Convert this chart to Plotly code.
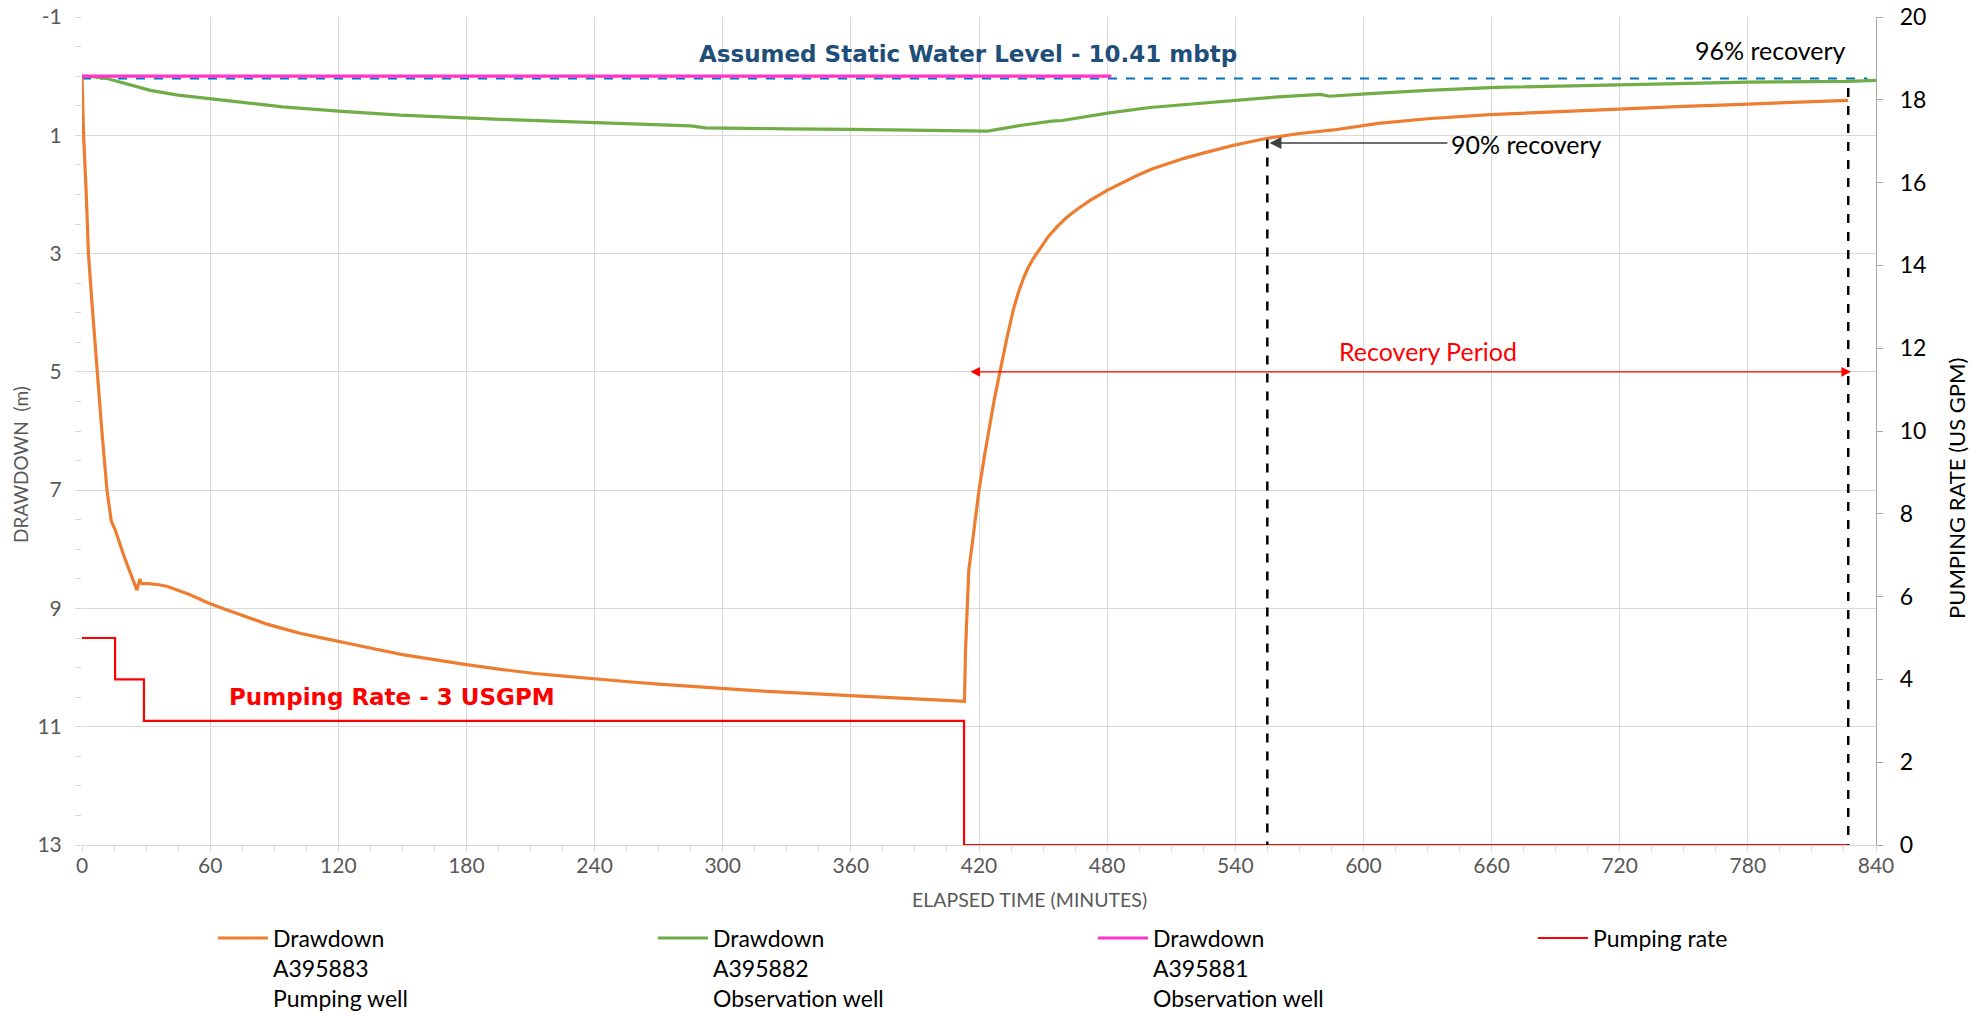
import plotly.graph_objects as go

# ---------------- data ----------------
# Pumping well A395883 drawdown (m) vs elapsed time (min)
pw_time = [0, 0.75, 2, 3, 4.6, 7, 9.3, 11.7, 13.3, 13.7, 15.6, 20, 25.7, 26.5, 27.1, 27.6, 28,
           31, 36, 40, 45, 50, 55, 60, 66, 72, 80, 87, 95, 102, 110, 120, 135, 150, 165, 180,
           196, 212, 227, 242, 256, 270, 285, 300, 315, 330, 345, 360, 375, 390, 402, 413.2,
           413.7, 414.3, 415.2, 416.5, 418, 420, 422.5, 425, 427, 429, 431, 433, 436, 438.5,
           441, 443, 445.5, 449, 452.5, 456.5, 461, 466, 472, 480, 487, 494, 501, 508, 516,
           524, 531, 539, 547, 555, 570, 586, 607, 630, 659, 690, 722, 750, 774, 800, 827]
pw_draw = [0, 1.0, 2.0, 3.0, 3.8, 5.0, 6.0, 7.0, 7.43, 7.52, 7.68, 8.15, 8.69, 8.6, 8.5, 8.57, 8.58,
           8.58, 8.6, 8.63, 8.69, 8.76, 8.84, 8.92, 9.0, 9.08, 9.18, 9.27, 9.35, 9.42, 9.48, 9.56,
           9.67, 9.78, 9.87, 9.95, 10.03, 10.1, 10.15, 10.19, 10.24, 10.28, 10.32, 10.35, 10.39,
           10.42, 10.45, 10.48, 10.51, 10.53, 10.55, 10.57,
           9.7, 9.0, 8.36, 8.0, 7.58, 7.0, 6.43, 5.9, 5.5, 5.14, 4.77, 4.44, 3.96, 3.65,
           3.4, 3.24, 3.08, 2.89, 2.71, 2.55, 2.39, 2.25, 2.1, 1.93, 1.8, 1.68, 1.57, 1.48, 1.39,
           1.31, 1.24, 1.17, 1.11, 1.05, 0.97, 0.91, 0.8, 0.72, 0.65, 0.6, 0.55, 0.51, 0.48, 0.44, 0.41]

# Observation well A395882 drawdown (m)
ow1_time = [0, 5, 11.7, 20, 32, 45, 60, 75, 94, 120, 149, 196, 243, 285, 292, 300, 330, 360, 390,
            420, 424, 440, 454, 459, 481, 500, 522, 540, 560, 580, 584, 601, 630, 662, 700, 741,
            780, 827, 840]
ow1_draw = [0, 0.01, 0.04, 0.12, 0.24, 0.32, 0.38, 0.45, 0.52, 0.59, 0.66, 0.73, 0.79, 0.84, 0.875,
            0.88, 0.89, 0.90, 0.92, 0.93, 0.93, 0.83, 0.76, 0.75, 0.62, 0.53, 0.46, 0.41, 0.35,
            0.31, 0.34, 0.30, 0.24, 0.19, 0.16, 0.126, 0.10, 0.087, 0.07]

# Observation well A395881 drawdown (m)
ow2_time = [0, 482]
ow2_draw = [0, 0]

# Pumping rate (US GPM)
rate_time = [0, 15.5, 15.5, 29, 29, 413, 413, 827]
rate_gpm = [5, 5, 4, 4, 3, 3, 0, 0]

# Assumed static water level reference
static_time = [0, 836]
static_level = [0.04, 0.04]

# Recovery markers
recovery_times = [555, 827]
recovery_tops = [1.07, 0.2]
recovery_labels = ["90% recovery", "96% recovery"]
pump_stop_time = 416
recovery_end_time = 829
recovery_period_level = 5

x_ticks = list(range(0, 841, 60))
y_ticks = list(range(-1, 14, 2))
y2_ticks = list(range(0, 21, 2))

FONT = "Lato, Calibri, Carlito, sans-serif"
HEAD_FONT = "DejaVu Sans, sans-serif"
GRID = "#D9D9D9"
TICKTXT = "#595959"

fig = go.Figure()

fig.add_trace(go.Scatter(x=static_time, y=static_level, mode="lines", showlegend=False,
                         line=dict(color="#0070C0", width=2, dash="dash"), hoverinfo="skip"))
fig.add_trace(go.Scatter(x=pw_time, y=pw_draw, mode="lines",
                         name="Drawdown<br>A395883<br>Pumping well",
                         line=dict(color="#ED7D31", width=3.2)))
fig.add_trace(go.Scatter(x=ow1_time, y=ow1_draw, mode="lines",
                         name="Drawdown<br>A395882<br>Observation well",
                         line=dict(color="#70AD47", width=3.2)))
fig.add_trace(go.Scatter(x=ow2_time, y=ow2_draw, mode="lines",
                         name="Drawdown<br>A395881<br>Observation well",
                         line=dict(color="#FF33CC", width=3.2)))
fig.add_trace(go.Scatter(x=rate_time, y=rate_gpm, mode="lines", yaxis="y2",
                         name="Pumping rate",
                         line=dict(color="#FF0000", width=2.2)))

shapes = []
for t, top in zip(recovery_times, recovery_tops):
    shapes.append(dict(type="line", xref="x", yref="y", x0=t, x1=t, y0=top, y1=13,
                       line=dict(color="black", width=2.5, dash="dash")))

annotations = [
    dict(x=415, y=-0.38, xref="x", yref="y", text="<b>Assumed Static Water Level - 10.41 mbtp</b>",
         showarrow=False, font=dict(family=HEAD_FONT, size=23, color="#1F4E79")),
    dict(x=145, y=10.5, xref="x", yref="y", text="<b>Pumping Rate - 3 USGPM</b>",
         showarrow=False, font=dict(family=HEAD_FONT, size=23, color="#FF0000")),
    dict(x=recovery_times[1], y=-0.45, xref="x", yref="y", text=recovery_labels[1],
         xanchor="right", showarrow=False, font=dict(family=FONT, size=25, color="black")),
    dict(x=640, y=1.15, xref="x", yref="y", text=recovery_labels[0],
         xanchor="left", showarrow=False, font=dict(family=FONT, size=25, color="black")),
    dict(x=recovery_times[0] + 1, y=1.13, xref="x", yref="y", ax=640, ay=1.13, axref="x", ayref="y",
         text="", showarrow=True, arrowhead=2, arrowsize=1.6, arrowwidth=1.5, arrowcolor="#404040"),
    dict(x=630, y=4.64, xref="x", yref="y", text="Recovery Period", showarrow=False,
         font=dict(family=FONT, size=25, color="#FF0000")),
    dict(x=pump_stop_time, y=recovery_period_level, xref="x", yref="y",
         ax=recovery_end_time, ay=recovery_period_level, axref="x", ayref="y",
         text="", showarrow=True, arrowhead=2, startarrowhead=2, arrowside="end+start",
         arrowsize=1.6, arrowwidth=1.2, arrowcolor="#FF0000"),
    # axis titles
    dict(x=-0.034, y=0.459, xref="paper", yref="paper", text="DRAWDOWN  (m)", textangle=-90,
         xanchor="center", yanchor="middle",
         showarrow=False, font=dict(family=FONT, size=19, color=TICKTXT)),
    dict(x=1.0445, y=0.431, xref="paper", yref="paper", text="PUMPING RATE (US GPM)", textangle=-90,
         xanchor="center", yanchor="middle",
         showarrow=False, font=dict(family=FONT, size=22, color="black")),
    dict(x=0.528, y=-0.0664, xref="paper", yref="paper", text="ELAPSED TIME (MINUTES)",
         xanchor="center", yanchor="middle",
         showarrow=False, font=dict(family=FONT, size=19.5, color=TICKTXT)),
]

fig.update_layout(
    width=1984, height=1014,
    margin=dict(l=82, r=108, t=17, b=169, autoexpand=False),
    paper_bgcolor="white", plot_bgcolor="white",
    font=dict(family=FONT, color="black"),
    shapes=shapes, annotations=annotations,
    xaxis=dict(range=[0, 840], tickvals=x_ticks, showgrid=True, gridcolor=GRID, gridwidth=1.3,
               zeroline=False, showline=True, linecolor=GRID, linewidth=1.3, automargin=False,
               ticks="outside", ticklen=2, tickcolor=GRID,
               minor=dict(dtick=15, tick0=0, ticks="outside", ticklen=5, tickcolor=GRID, showgrid=False),
               tickfont=dict(family=FONT, size=21, color=TICKTXT)),
    yaxis=dict(range=[13, -1], tickvals=y_ticks, ticktext=[str(v) for v in y_ticks],
               showgrid=True, gridcolor=GRID, gridwidth=1.3, automargin=False,
               zeroline=False, showline=False, ticks="outside", ticklen=6, tickcolor=GRID,
               ticklabelstandoff=9,
               minor=dict(dtick=0.5, tick0=-1, ticks="outside", ticklen=6, tickcolor=GRID, showgrid=False),
               tickfont=dict(family=FONT, size=21, color=TICKTXT)),
    yaxis2=dict(range=[0, 20], tickvals=y2_ticks, overlaying="y", side="right", showgrid=False,
                zeroline=False, showline=True, linecolor="#A6A6A6", linewidth=1.3, automargin=False,
                ticks="outside", ticklen=6, tickcolor="#A6A6A6", ticklabelstandoff=12,
                tickfont=dict(family=FONT, size=23, color="black")),
    legend=dict(orientation="h", x=0.073, xanchor="left", y=-0.2108, yanchor="bottom",
                entrywidth=375, entrywidthmode="pixels", valign="top",
                font=dict(family=FONT, size=23, color="black"), itemwidth=50),
    showlegend=True,
)

fig.write_html("out.html", config={"displayModeBar": False},
               post_script="document.body.style.margin='0';")
